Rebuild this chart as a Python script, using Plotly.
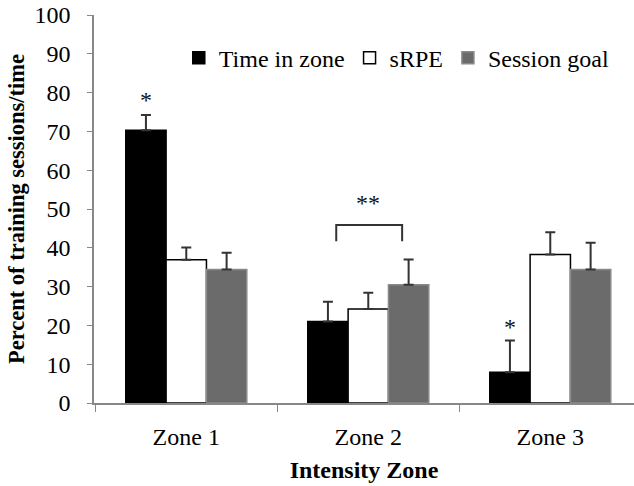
import plotly.graph_objects as go

zones = ["Zone 1", "Zone 2", "Zone 3"]
time_in_zone = [70.3, 21.0, 7.9]
time_in_zone_err = [3.9, 5.1, 8.2]
srpe = [36.9, 24.2, 38.3]
srpe_err = [3.2, 4.2, 5.7]
session_goal = [34.4, 30.5, 34.4]
session_goal_err = [4.3, 6.5, 6.9]
y_ticks = [0, 10, 20, 30, 40, 50, 60, 70, 80, 90, 100]

FONT = "Liberation Serif"
FS = 24

fig = go.Figure()
series = [
    ("Time in zone", time_in_zone, time_in_zone_err, "#000000", "#000000"),
    ("sRPE", srpe, srpe_err, "#ffffff", "#000000"),
    ("Session goal", session_goal, session_goal_err, "#6b6b6b", "#8a8a8a"),
]
for name, vals, errs, fill, line in series:
    fig.add_trace(go.Bar(
        name=name, x=zones, y=vals,
        marker=dict(color=fill, line=dict(color=line, width=1.5)),
        error_y=dict(type="data", array=errs, symmetric=False, arrayminus=[0]*len(errs),
                     color="#333333", thickness=2, width=5),
    ))

star_font = dict(size=FS, family=FONT, color="#111111")
fig.add_annotation(x=-0.222, y=78.0, text="*", showarrow=False, font=star_font, yanchor="middle")
fig.add_annotation(x=1.778, y=19.5, text="*", showarrow=False, font=star_font, yanchor="middle")
fig.add_annotation(x=1.0, y=51.5, text="**", showarrow=False, font=star_font, yanchor="middle")
fig.add_shape(type="path", path="M 0.824 41.7 L 0.824 45.9 L 1.186 45.9 L 1.186 41.7",
              line=dict(color="#333333", width=2))

fig.update_layout(
    width=634, height=486,
    margin=dict(l=94, r=0, t=15, b=83),
    plot_bgcolor="white", paper_bgcolor="white",
    barmode="group", bargap=0.335, bargroupgap=0,
    font=dict(family=FONT, size=FS, color="black"),
    showlegend=True,
    legend=dict(orientation="h", x=0.157, y=0.889, xanchor="left", yanchor="middle",
                font=dict(size=FS, family=FONT), bgcolor="rgba(0,0,0,0)"),
    xaxis=dict(
        range=[-0.507, 2.46], showline=True, linecolor="#888888", linewidth=1.5,
        ticks="outside", tickson="boundaries", ticklen=7, tickcolor="#888888",
        ticklabelstandoff=11,
        title=dict(text="<b>Intensity Zone</b>", font=dict(size=FS, family=FONT), standoff=13),
        showgrid=False, zeroline=False, automargin=False,
        tickfont=dict(size=FS, family=FONT),
    ),
    yaxis=dict(
        range=[0, 100], tickvals=y_ticks, showline=True, linecolor="#888888", linewidth=1.5,
        ticks="outside", ticklen=5, tickcolor="#888888", showgrid=False, zeroline=False,
        ticklabelstandoff=12,
        automargin=False, tickfont=dict(size=FS, family=FONT),
        title=dict(text="<b>Percent of training sessions/time</b>", font=dict(size=22.5, family=FONT), standoff=4),
    ),
)

fig.write_html("out.html", config={"displayModeBar": False},
               post_script="document.body.style.margin='0';")
